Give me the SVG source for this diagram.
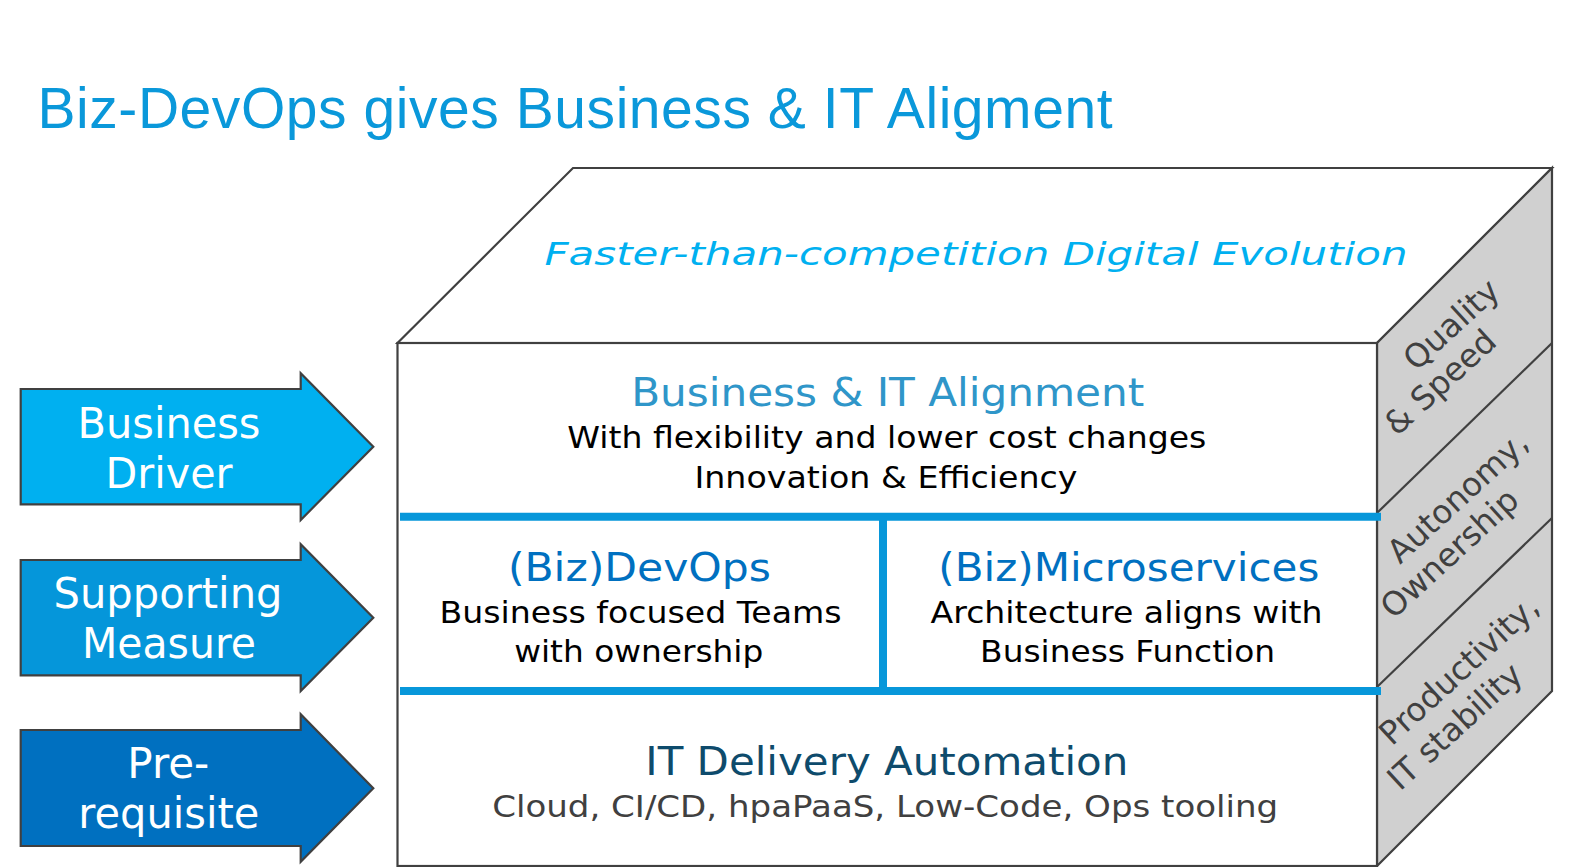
<svg xmlns="http://www.w3.org/2000/svg" width="1596" height="867" viewBox="0 0 1596 867">
<style>
.v{font-family:"DejaVu Sans","Verdana",sans-serif}
.arr{stroke:#404040;stroke-width:2.2;stroke-linejoin:miter}
.lbl{font-family:"DejaVu Sans","Verdana",sans-serif;font-size:42px;fill:#fff;text-anchor:middle}
.edge{stroke:#404040;stroke-width:2.2;stroke-linejoin:miter}
.side{font-family:"DejaVu Sans","Verdana",sans-serif;font-size:32.5px;fill:#404040}
.hd{font-family:"DejaVu Sans","Verdana",sans-serif;font-size:39px;text-anchor:middle}
.bd{font-family:"DejaVu Sans","Verdana",sans-serif;font-size:31px;fill:#000;text-anchor:middle}
.blue{stroke:#0797DA;stroke-width:8;fill:none}
</style>
<rect width="1596" height="867" fill="#fff"/>
<text id="title" x="37.5" y="127.5" font-family="Liberation Sans, Arial, sans-serif" font-size="57" fill="#0A98DA" textLength="1075" lengthAdjust="spacing">Biz-DevOps gives Business &amp; IT Aligment</text>

<g id="arrow-business-driver">
<path class="arr" fill="#00B0F0" d="M20.7,389 H300.7 V373.3 L373.3,446.7 L300.7,520 V504.3 H20.7 Z"/>
<text class="lbl" x="169" y="438" textLength="183" lengthAdjust="spacingAndGlyphs">Business</text>
<text class="lbl" x="169" y="487.7" textLength="127" lengthAdjust="spacingAndGlyphs">Driver</text>
</g>
<g id="arrow-supporting-measure">
<path class="arr" fill="#0596DA" d="M20.7,560 H300.7 V544.3 L373.3,617.7 L300.7,691 V675.3 H20.7 Z"/>
<text class="lbl" x="168" y="608.3" textLength="229" lengthAdjust="spacingAndGlyphs">Supporting</text>
<text class="lbl" x="169" y="657.7" textLength="174" lengthAdjust="spacingAndGlyphs">Measure</text>
</g>
<g id="arrow-prerequisite">
<path class="arr" fill="#0070C0" d="M20.7,730 H300.7 V714.3 L373.3,788.3 L300.7,861.7 V846 H20.7 Z"/>
<text class="lbl" x="168.3" y="778.3" textLength="82" lengthAdjust="spacingAndGlyphs">Pre-</text>
<text class="lbl" x="168.8" y="828.3" textLength="181" lengthAdjust="spacingAndGlyphs">requisite</text>
</g>

<g id="cube">
<path fill="#fff" class="edge" d="M397.5,343 L573,168 H1552 L1377,343 Z"/>
<path fill="#D0D0D0" class="edge" d="M1377,343 L1552,168 V691 L1377,866 Z"/>
<rect x="397.5" y="343" width="979.5" height="523" fill="#fff" class="edge"/>
<line class="edge" x1="1377" y1="513" x2="1552" y2="343"/>
<line class="edge" x1="1377" y1="687" x2="1552" y2="518"/>
</g>

<g id="connectors">
<line class="blue" x1="400" y1="516.7" x2="1381" y2="516.7"/>
<line class="blue" x1="400" y1="691" x2="1381" y2="691"/>
<line class="blue" x1="883" y1="516.7" x2="883" y2="691"/>
</g>

<g id="top-face-label">
<text class="v" x="976" y="265" font-size="32" font-style="italic" fill="#00B0F0" text-anchor="middle" textLength="863" lengthAdjust="spacingAndGlyphs">Faster-than-competition Digital Evolution</text>
</g>

<g id="layer-business-it">
<text class="hd" x="887.7" y="406" fill="#2F96C9" textLength="513" lengthAdjust="spacingAndGlyphs">Business &amp; IT Alignment</text>
<text class="bd" x="886.8" y="448.3" textLength="639" lengthAdjust="spacingAndGlyphs">With flexibility and lower cost changes</text>
<text class="bd" x="886" y="487.7" textLength="383" lengthAdjust="spacingAndGlyphs">Innovation &amp; Efficiency</text>
</g>
<g id="layer-devops">
<text class="hd" x="639.4" y="580.7" fill="#0070C0" textLength="263" lengthAdjust="spacingAndGlyphs">(Biz)DevOps</text>
<text class="bd" x="640.6" y="622.7" textLength="402" lengthAdjust="spacingAndGlyphs">Business focused Teams</text>
<text class="bd" x="638.7" y="661.7" textLength="249" lengthAdjust="spacingAndGlyphs">with ownership</text>
</g>
<g id="layer-microservices">
<text class="hd" x="1128.8" y="580.7" fill="#0070C0" textLength="381" lengthAdjust="spacingAndGlyphs">(Biz)Microservices</text>
<text class="bd" x="1126.6" y="622.7" textLength="392" lengthAdjust="spacingAndGlyphs">Architecture aligns with</text>
<text class="bd" x="1127.6" y="661.7" textLength="295" lengthAdjust="spacingAndGlyphs">Business Function</text>
</g>
<g id="layer-it-delivery">
<text class="hd" x="886.8" y="775" font-size="41" fill="#0E4B6C" textLength="483" lengthAdjust="spacingAndGlyphs">IT Delivery Automation</text>
<text class="bd" x="885.2" y="816.7" font-size="33" style="fill:#404040" textLength="786" lengthAdjust="spacingAndGlyphs">Cloud, CI/CD, hpaPaaS, Low-Code, Ops tooling</text>
</g>

<g id="side-quality">
<text class="side" transform="translate(1416,372) rotate(-42.5)">Quality</text>
<text class="side" transform="translate(1397,437) rotate(-42.5)">&amp; Speed</text>
</g>
<g id="side-autonomy">
<text class="side" transform="translate(1400,565) rotate(-42.5)">Autonomy,</text>
<text class="side" transform="translate(1393.3,620) rotate(-42.5)">Ownership</text>
</g>
<g id="side-productivity">
<text class="side" transform="translate(1391.7,746.7) rotate(-42.5)">Productivity,</text>
<text class="side" transform="translate(1400,791.7) rotate(-42.5)">IT stability</text>
</g>
</svg>
